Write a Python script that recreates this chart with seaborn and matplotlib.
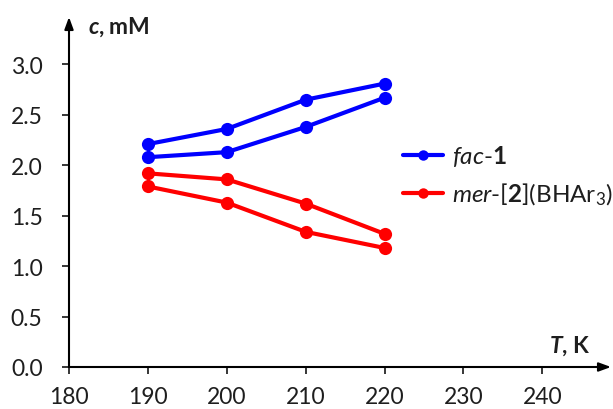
import matplotlib
matplotlib.use("Agg")
import matplotlib.pyplot as plt
from matplotlib.lines import Line2D
import seaborn as sns
import pandas as pd

# Temperatures (K) and concentrations (mM), two runs per compound
temperature = [190, 200, 210, 220]
fac1_run_a = [2.21, 2.36, 2.65, 2.81]
fac1_run_b = [2.08, 2.13, 2.38, 2.67]
mer2_run_a = [1.92, 1.86, 1.62, 1.32]
mer2_run_b = [1.79, 1.63, 1.34, 1.18]

compounds = ["fac-1", "mer-[2](BHAr3)"]
legend_labels = [r"$\mathit{fac}$-$\mathbf{1}$",
                 r"$\mathit{mer}$-[$\mathbf{2}$](BHAr$_3$)"]
colors = ["#0000FF", "#FF0000"]
x_ticks = [180, 190, 200, 210, 220, 230, 240]
y_ticks = [0.0, 0.5, 1.0, 1.5, 2.0, 2.5, 3.0]

rows = []
for comp, run, vals in [(compounds[0], "a", fac1_run_a), (compounds[0], "b", fac1_run_b),
                        (compounds[1], "a", mer2_run_a), (compounds[1], "b", mer2_run_b)]:
    for t, v in zip(temperature, vals):
        rows.append({"T": t, "c": v, "compound": comp, "run": run})
df = pd.DataFrame(rows)

sns.set_theme(style="white")
plt.rcParams["font.family"] = ["Lato", "DejaVu Sans"]
plt.rcParams["mathtext.fontset"] = "custom"
plt.rcParams["mathtext.rm"] = "Lato"
plt.rcParams["mathtext.it"] = "Lato:italic"
plt.rcParams["mathtext.bf"] = "Lato:bold"
plt.rcParams["mathtext.bfit"] = "Lato:italic:bold"

W, H = 613, 410
fig = plt.figure(figsize=(W / 100, H / 100), dpi=100)
ax = fig.add_axes([69 / W, 42 / H, (611 - 69) / W, (368 - 18) / H])

sns.lineplot(data=df, x="T", y="c", hue="compound", units="run", estimator=None,
             palette=dict(zip(compounds, colors)), marker="o", markersize=9.5,
             markeredgewidth=0, linewidth=3.0, legend=False, ax=ax, sort=False)

text_color = "#1e1e1e"
fs = 16.5
ax.set_xlim(180, 248.7)
ax.set_ylim(0, 3.47)
ax.set_xticks(x_ticks)
ax.set_yticks(y_ticks)
ax.set_yticklabels([f"{v:.1f}" for v in y_ticks])
ax.set_xlabel("")
ax.set_ylabel("")
ax.tick_params(axis="both", which="major", direction="out", length=5, width=1.1,
               color="black", labelsize=fs, labelcolor=text_color, bottom=True, left=True)
ax.tick_params(axis="x", pad=9)
ax.tick_params(axis="y", pad=14)

for side in ["top", "right", "left", "bottom"]:
    ax.spines[side].set_visible(False)

# Axis lines with arrow heads
arrow = dict(arrowstyle="-|>,head_length=0.6,head_width=0.22", color="black", lw=1.5,
             shrinkA=0, shrinkB=0)
ax.annotate("", xy=(1.0, 0), xytext=(0, 0), xycoords="axes fraction", arrowprops=arrow,
            annotation_clip=False)
ax.annotate("", xy=(0, 1.0), xytext=(0, 0), xycoords="axes fraction", arrowprops=arrow,
            annotation_clip=False)

fig.text(88 / W, 1 - 34 / H, r"$\mathbfit{c}\mathbf{,}\;\mathbf{mM}$", fontsize=fs,
         ha="left", va="baseline", color=text_color)
fig.text(549 / W, 1 - 353 / H, r"$\mathbfit{T}\mathbf{,}\;\mathbf{K}$", fontsize=fs,
         ha="left", va="baseline", color=text_color)

handles = [Line2D([], [], color=c, marker="o", markersize=7.5, linewidth=3.0,
                  markeredgewidth=0) for c in colors]
fig.legend(handles, legend_labels, loc="center left", bbox_to_anchor=(403 / W, 1 - 176 / H),
           frameon=False, fontsize=17.5, handlelength=1.65, handletextpad=0.38,
           labelspacing=0.5, borderpad=0, borderaxespad=0, labelcolor=text_color)

fig.savefig("out.png", dpi=100)
